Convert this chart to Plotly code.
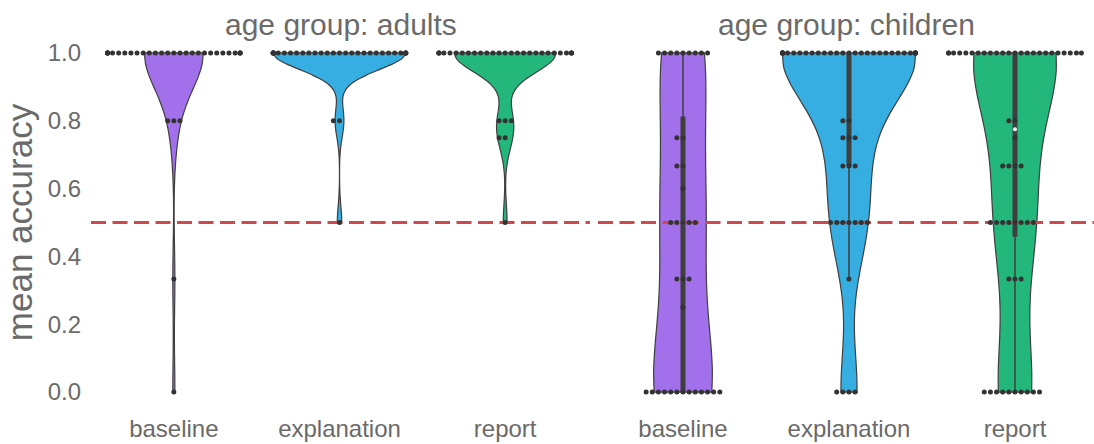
import numpy as np
import plotly.graph_objects as go

# ---- data -----------------------------------------------------------------
CONDITIONS = ["baseline", "explanation", "report"]
AGE_GROUPS = ["adults", "children"]
CHANCE_LEVEL = 0.5
Y_TICKS = [0.0, 0.2, 0.4, 0.6, 0.8, 1.0]

# mean accuracy -> number of participants with that score
ADULTS_BASELINE = {0.0: 1, 1 / 3: 1, 0.8: 3, 1.0: 28}
ADULTS_EXPLANATION = {0.5: 1, 0.8: 2, 1.0: 30}
ADULTS_REPORT = {0.5: 1, 0.75: 2, 0.8: 3, 1.0: 27}
CHILDREN_BASELINE = {0.0: 13, 0.25: 1, 1 / 3: 3, 0.5: 5, 0.6: 1, 2 / 3: 2, 0.75: 2, 1.0: 9}
CHILDREN_EXPLANATION = {0.0: 4, 1 / 3: 1, 0.5: 7, 2 / 3: 3, 0.75: 3, 0.8: 2, 1.0: 32}
CHILDREN_REPORT = {0.0: 10, 1 / 3: 3, 0.5: 8, 2 / 3: 4, 0.75: 1, 0.8: 2, 1.0: 24}

SCORES = {
    "adults": [ADULTS_BASELINE, ADULTS_EXPLANATION, ADULTS_REPORT],
    "children": [CHILDREN_BASELINE, CHILDREN_EXPLANATION, CHILDREN_REPORT],
}

# ---- style ----------------------------------------------------------------
COLORS = ["#a270ea", "#36aee2", "#23b77c"]
GRAY = "#3f3f3f"
DOT_COLOR = "#333333"
TEXT_COLOR = "#6a6a6a"
LINE_RED = "#cc494e"
FONT = "Liberation Sans, Arial, sans-serif"
MAX_WIDTH = 0.8          # full violin / swarm width in category units
DOT_STEP = 0.037         # horizontal spacing of swarm dots

W, H = 1094, 444
M_L, M_R, M_T, M_B = 91, 0, 36, 35
PLOT_W = W - M_L - M_R

X_RANGES = {"adults": [-0.5, 2.512], "children": [-0.512, 2.476]}
X_DOMAINS = {"adults": [0.0, 499 / PLOT_W], "children": [507 / PLOT_W, 1.0]}
AXIS_IDS = {"adults": ("x", "xaxis"), "children": ("x2", "xaxis2")}


def expand(counts):
    levels = np.array(list(counts.keys()), dtype=float)
    reps = np.array(list(counts.values()), dtype=int)
    return np.sort(np.repeat(levels, reps))


def scott_bw(vals):
    return vals.std(ddof=1) * len(vals) ** (-1 / 5)


def kde_peak(vals, bw):
    grid = np.linspace(vals.min(), vals.max(), 200)
    z = (grid[:, None] - vals[None, :]) / bw
    dens = np.exp(-0.5 * z ** 2).sum(axis=1) / (len(vals) * bw * np.sqrt(2 * np.pi))
    return dens.max()


def swarm_offsets(vals):
    """Place identical scores side by side, alternating around the centre."""
    offs = np.zeros(len(vals))
    half = MAX_WIDTH / 2
    for level in np.unique(vals):
        idx = np.where(vals == level)[0]
        order = [0]
        k = 1
        while len(order) < len(idx):
            order.append(-k)
            if len(order) < len(idx):
                order.append(k)
            k += 1
        offs[idx] = np.clip(np.array(order) * DOT_STEP, -half, half)
    return offs


fig = go.Figure()

for group in AGE_GROUPS:
    xref, _ = AXIS_IDS[group]
    samples = [expand(c) for c in SCORES[group]]
    bws = [scott_bw(v) for v in samples]
    peaks = [kde_peak(v, b) for v, b in zip(samples, bws)]
    top = max(peaks)

    # violins (area-scaled within each age group)
    for i, (vals, bw, pk) in enumerate(zip(samples, bws, peaks)):
        fig.add_trace(go.Violin(
            x=np.full(len(vals), i), y=vals, xaxis=xref, yaxis="y",
            width=MAX_WIDTH * pk / top, scalemode="width", spanmode="hard",
            bandwidth=bw, fillcolor=COLORS[i], opacity=1,
            line=dict(color=GRAY, width=1.2), points=False,
            box_visible=False, meanline_visible=False,
            hoverinfo="skip", showlegend=False,
        ))

    # inner box: whiskers, interquartile bar, median
    for i, vals in enumerate(samples):
        q1, q2, q3 = np.percentile(vals, [25, 50, 75])
        lim = 1.5 * (q3 - q1)
        lo = vals[vals >= q1 - lim].min()
        hi = vals[vals <= q3 + lim].max()
        fig.add_trace(go.Scatter(
            x=[i, i], y=[lo, hi], xaxis=xref, yaxis="y", mode="lines",
            line=dict(color=GRAY, width=1.5), hoverinfo="skip", showlegend=False))
        fig.add_trace(go.Scatter(
            x=[i, i], y=[q1, q3], xaxis=xref, yaxis="y", mode="lines",
            line=dict(color=GRAY, width=5), hoverinfo="skip", showlegend=False))
        fig.add_trace(go.Scatter(
            x=[i], y=[q2], xaxis=xref, yaxis="y", mode="markers",
            marker=dict(color="white", size=4, line=dict(width=0)),
            hoverinfo="skip", showlegend=False))

    # chance level
    fig.add_trace(go.Scatter(
        x=X_RANGES[group], y=[CHANCE_LEVEL, CHANCE_LEVEL], xaxis=xref, yaxis="y",
        mode="lines", line=dict(color=LINE_RED, width=3.2, dash="15px,6.5px"),
        hoverinfo="skip", showlegend=False))

    # individual participants
    for i, vals in enumerate(samples):
        fig.add_trace(go.Scatter(
            x=i + swarm_offsets(vals), y=vals, xaxis=xref, yaxis="y",
            mode="markers", marker=dict(color=DOT_COLOR, size=5, line=dict(width=0)),
            hoverinfo="skip", showlegend=False))

axis_common = dict(
    showgrid=False, zeroline=False, showline=False, ticks="",
    tickfont=dict(family=FONT, size=24, color=TEXT_COLOR),
)

layout = dict(
    width=W, height=H,
    margin=dict(l=M_L, r=M_R, t=M_T, b=M_B),
    paper_bgcolor="white", plot_bgcolor="white",
    violinmode="overlay", showlegend=False,
    font=dict(family=FONT, color=TEXT_COLOR),
    yaxis=dict(
        range=[-0.05, 1.05], tickvals=Y_TICKS,
        ticktext=[f"{t:.1f}" for t in Y_TICKS], ticklabelstandoff=9,
        title=dict(text="mean accuracy", font=dict(family=FONT, size=35, color=TEXT_COLOR),
                   standoff=4),
        **axis_common,
    ),
    annotations=[],
)

for group in AGE_GROUPS:
    _, key = AXIS_IDS[group]
    layout[key] = dict(
        domain=X_DOMAINS[group], range=X_RANGES[group],
        tickvals=list(range(len(CONDITIONS))), ticktext=CONDITIONS,
        ticklabelstandoff=3, **axis_common,
    )
    d0, d1 = X_DOMAINS[group]
    layout["annotations"].append(dict(
        text=f"age group: {group}", xref="paper", yref="paper",
        x=(d0 + d1) / 2, y=1.0295, xanchor="center", yanchor="middle",
        showarrow=False, font=dict(family=FONT, size=30, color=TEXT_COLOR),
    ))

layout["xaxis2"]["anchor"] = "y"
fig.update_layout(**layout)

fig.write_html("out.html")
